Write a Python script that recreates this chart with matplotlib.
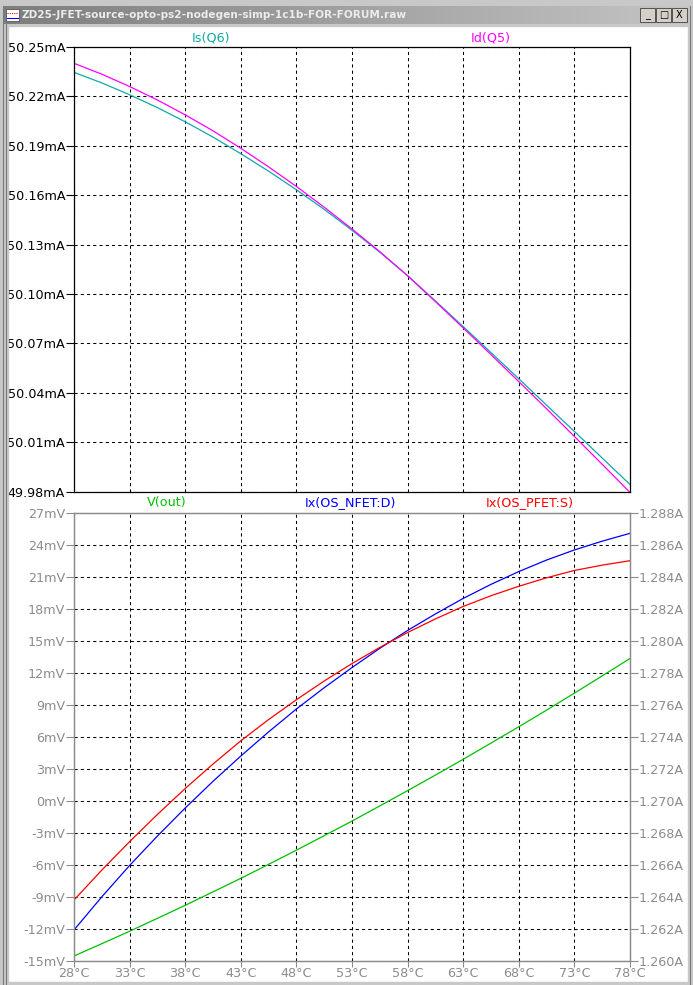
"""LTspice waveform window: JFET source opto, temperature sweep"""

import matplotlib
matplotlib.use("Agg")
import matplotlib.pyplot as plt
import numpy as np
from matplotlib.colors import LinearSegmentedColormap
from matplotlib.patches import Rectangle
from matplotlib.ticker import FuncFormatter, MultipleLocator

W, H = 693, 985

# sweep temperature (deg C), read every 2.5 deg
temps = [28, 30.5, 33, 35.5, 38, 40.5, 43, 45.5, 48, 50.5, 53,
         55.5, 58, 60.5, 63, 65.5, 68, 70.5, 73, 75.5, 78]
xticks = [28, 33, 38, 43, 48, 53, 58, 63, 68, 73, 78]

# top pane, mA
is_q6 = [50.2346, 50.2282, 50.2210, 50.2132, 50.2046, 50.1953, 50.1852, 50.1746, 50.1633, 50.1514, 50.1387,
         50.1254, 50.1112, 50.0958, 50.0802, 50.0644, 50.0485, 50.0325, 50.0165, 50.0004, 49.9843]
id_q5 = [50.2401, 50.2335, 50.2260, 50.2178, 50.2088, 50.1991, 50.1885, 50.1772, 50.1653, 50.1527, 50.1395,
         50.1257, 50.1110, 50.0954, 50.0794, 50.0632, 50.0468, 50.0303, 50.0135, 49.9966, 49.9795]

# bottom pane, V(out) in mV (left axis), currents in A (right axis)
v_out = [-14.53, -13.38, -12.21, -11.00, -9.78, -8.52, -7.25, -5.94, -4.61, -3.25, -1.88,
         -0.46, 0.97, 2.43, 3.91, 5.43, 6.96, 8.52, 10.11, 11.73, 13.36]
ix_nfet = [1.26194, 1.26401, 1.26597, 1.26781, 1.26956, 1.27123, 1.27281, 1.27432, 1.27575, 1.27708, 1.27834,
           1.27954, 1.28066, 1.28169, 1.28266, 1.28354, 1.28434, 1.28506, 1.28569, 1.28624, 1.28673]
ix_pfet = [1.26381, 1.26568, 1.26746, 1.26916, 1.27078, 1.27231, 1.27376, 1.27509, 1.27633, 1.27750, 1.27859,
           1.27960, 1.28053, 1.28138, 1.28216, 1.28283, 1.28342, 1.28395, 1.28441, 1.28474, 1.28502]

top_ticks = [50.25, 50.22, 50.19, 50.16, 50.13, 50.10, 50.07, 50.04, 50.01, 49.98]

CYAN = "#10a8a8"
MAGENTA = "#ff00ff"
GREEN = "#00c000"
BLUE = "#0000ff"
RED = "#ff0000"
GRAY = "#8c8c8c"
FONT = "DejaVu Sans"
FS = 9.2


def px_axes(fig, x0, y0, x1, y1):
    """axes from pixel box (top-left origin)"""
    return fig.add_axes([x0 / W, 1 - y1 / H, (x1 - x0) / W, (y1 - y0) / H])


def grid_style(ax):
    ax.grid(True, color="black", linestyle=(0, (3, 3)), linewidth=0.75)
    ax.set_axisbelow(True)


def draw_chrome(fig):
    # window frame
    frame = "#c8c8c8"
    fig.patches.append(Rectangle((0, 0), 8 / W, 1, transform=fig.transFigure, color=frame, zorder=0))
    fig.patches.append(Rectangle((688 / W, 0), 5 / W, 1, transform=fig.transFigure, color=frame, zorder=0))
    fig.patches.append(Rectangle((0, 1 - 26 / H), 1, 26 / H, transform=fig.transFigure, color=frame, zorder=0))
    fig.patches.append(Rectangle((0, 0), 1, 3 / H, transform=fig.transFigure, color=frame, zorder=0))
    for x in (3, 6):
        fig.add_artist(plt.Line2D([x / W, x / W], [0, 1 - 6 / H], transform=fig.transFigure, color="#7a7a7a", lw=0.8))
    fig.add_artist(plt.Line2D([690 / W, 690 / W], [0, 1 - 6 / H], transform=fig.transFigure, color="#7a7a7a", lw=0.8))

    # title bar with gradient
    tb = px_axes(fig, 4, 6, 689, 24)
    tb.set_zorder(10)
    grad = np.linspace(0, 1, 256).reshape(1, -1)
    tb.imshow(grad, aspect="auto", cmap=LinearSegmentedColormap.from_list("tb", ["#7e7e7e", "#c4c4c4"]),
              extent=[0, 1, 0, 1])
    tb.set_xlim(0, 1)
    tb.set_ylim(0, 1)
    tb.axis("off")
    tb.text(18 / 685, 0.5, "ZD25-JFET-source-opto-ps2-nodegen-simp-1c1b-FOR-FORUM.raw", color="#ececec",
            fontsize=7.6, fontweight="bold", family=FONT, va="center", ha="left")
    # tiny icon
    tb.add_patch(Rectangle((2 / 685, 0.15), 13 / 685, 0.7, facecolor="white", edgecolor="#404040", lw=0.5))
    tb.plot([3 / 685, 14 / 685], [0.35, 0.35], color="blue", lw=0.8)
    tb.plot([3 / 685, 14 / 685], [0.6, 0.6], color="red", lw=0.8, linestyle=(0, (1, 1)))
    # buttons
    for i, sym in enumerate(["_", "\u25a1", "X"]):
        bx = (636 + i * 16) / 685
        tb.add_patch(Rectangle((bx, 0.1), 15 / 685, 0.8, facecolor="#d4d0c8", edgecolor="#404040", lw=0.6))
        tb.text(bx + 7.5 / 685, 0.5, sym, ha="center", va="center", fontsize=7, color="black", family=FONT)


def plot_top(fig):
    ax = px_axes(fig, 74, 47, 630, 491.6)
    ax.plot(temps, is_q6, color=CYAN, lw=0.9)
    ax.plot(temps, id_q5, color=MAGENTA, lw=0.9)
    ax.set_xlim(28, 78)
    ax.set_ylim(49.98, 50.25)
    ax.set_xticks(xticks)
    ax.set_yticks(top_ticks)
    ax.yaxis.set_major_formatter(FuncFormatter(lambda v, p: "%.2fmA" % v))
    ax.tick_params(axis="x", length=0, labelbottom=False)
    ax.tick_params(axis="y", length=5.8, width=0.8, color="black", labelsize=FS, labelcolor="black", pad=0.5)
    for s in ax.spines.values():
        s.set_color("black")
        s.set_linewidth(0.9)
    grid_style(ax)
    for lab in ax.get_yticklabels():
        lab.set_family(FONT)

    fig.text(211 / W, 1 - 38 / H, "Is(Q6)", color=CYAN, fontsize=FS, ha="center", va="center", family=FONT)
    fig.text(491 / W, 1 - 38 / H, "Id(Q5)", color=MAGENTA, fontsize=FS, ha="center", va="center", family=FONT)


def plot_bottom(fig):
    ax = px_axes(fig, 74, 513, 630, 961)
    ax.plot(temps, v_out, color=GREEN, lw=0.9)
    ax.set_xlim(28, 78)
    ax.set_ylim(-15, 27)
    ax.set_xticks(xticks)
    ax.yaxis.set_major_locator(MultipleLocator(3))
    ax.yaxis.set_major_formatter(FuncFormatter(lambda v, p: "%dmV" % round(v)))
    ax.xaxis.set_major_formatter(FuncFormatter(lambda v, p: "%d\u00b0C" % round(v)))
    ax.tick_params(axis="y", length=5.8, width=0.8, color=GRAY, labelsize=FS, labelcolor=GRAY, pad=0.5)
    ax.tick_params(axis="x", length=4, width=0.8, color=GRAY, labelsize=FS, labelcolor=GRAY, pad=0.5)
    for s in ax.spines.values():
        s.set_color(GRAY)
        s.set_linewidth(0.9)
    grid_style(ax)

    ax2 = ax.twinx()
    ax2.plot(temps, ix_nfet, color=BLUE, lw=0.9)
    ax2.plot(temps, ix_pfet, color=RED, lw=0.9)
    ax2.set_ylim(1.260, 1.288)
    ax2.yaxis.set_major_locator(MultipleLocator(0.002))
    ax2.yaxis.set_major_formatter(FuncFormatter(lambda v, p: "%.3fA" % v))
    ax2.tick_params(length=5.8, width=0.8, color=GRAY, labelsize=FS, labelcolor=GRAY, pad=0.5)
    for s in ax2.spines.values():
        s.set_color(GRAY)
        s.set_linewidth(0.9)
    for lab in ax.get_xticklabels() + ax.get_yticklabels() + ax2.get_yticklabels():
        lab.set_family(FONT)

    fig.text(167 / W, 1 - 503 / H, "V(out)", color=GREEN, fontsize=FS, ha="center", va="center", family=FONT)
    fig.text(350 / W, 1 - 503 / H, "Ix(OS_NFET:D)", color=BLUE, fontsize=FS, ha="center", va="center", family=FONT)
    fig.text(530 / W, 1 - 503 / H, "Ix(OS_PFET:S)", color=RED, fontsize=FS, ha="center", va="center", family=FONT)


def main():
    fig = plt.figure(figsize=(W / 100, H / 100), dpi=100, facecolor="white")
    draw_chrome(fig)
    plot_top(fig)
    plot_bottom(fig)
    fig.savefig("out.png", dpi=100, facecolor="white")


if __name__ == '__main__':
    main()
